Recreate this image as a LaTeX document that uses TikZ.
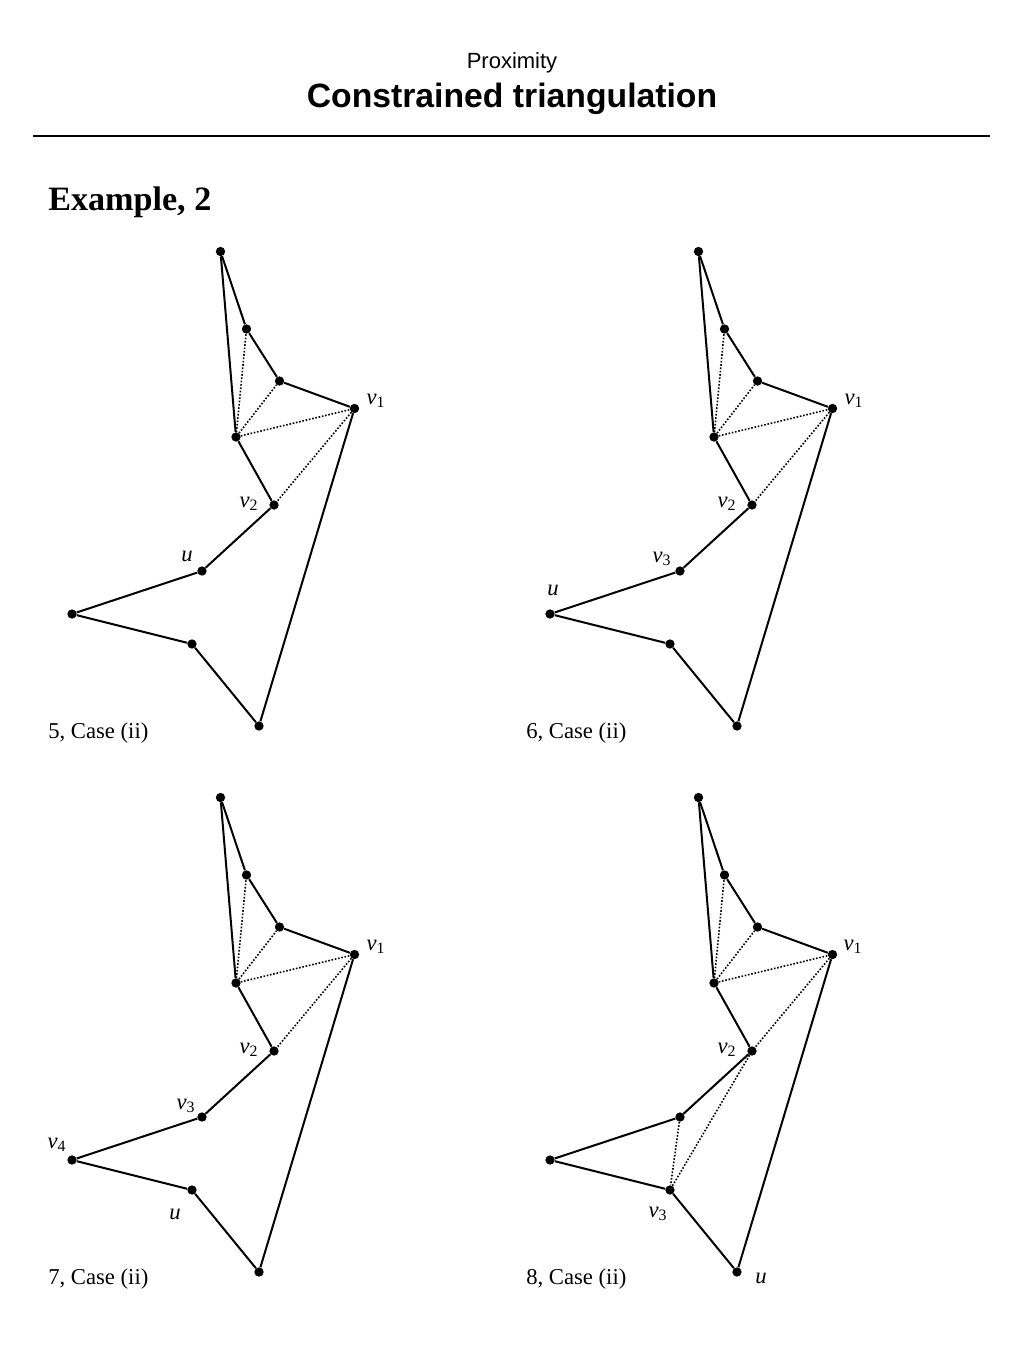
\documentclass[tikz,border=0pt]{standalone}
\usepackage{fontspec}
\setmainfont{Liberation Serif}
\newfontfamily\headfont{Liberation Sans}
\usepackage{xcolor}

\begin{document}
\begin{tikzpicture}[x=0.75pt, y=-0.75pt,
    dot/.style={circle, fill=black, inner sep=0pt, minimum size=7pt},
    edge/.style={line width=1.5pt},
    diag/.style={line width=1.2pt, dash pattern=on 1.2pt off 1.3pt},
    lab/.style={inner sep=0pt, font=\fontsize{17}{20}\selectfont},
    captext/.style={inner sep=0pt, anchor=base west, font=\fontsize{17}{20}\selectfont}]
    \useasboundingbox (0,0) rectangle (1024,1365);

    % header
    \node[inner sep=0pt, anchor=base, font=\headfont\fontsize{16.5}{20}\selectfont] (sec) at (512,68) {Proximity};
    \node[inner sep=0pt, anchor=base, font=\headfont\bfseries\fontsize{25.3}{30}\selectfont] (title) at (512,107) {Constrained triangulation};
    \coordinate (rulel) at (33,136);
    \coordinate (ruler) at (990,136);
      \draw[line width=1.5pt] (rulel) -- (ruler);
    \node[inner sep=0pt, anchor=base west, font=\bfseries\fontsize{25.6}{30}\selectfont] (ex) at (48,210) {Example, 2};

    % the same polygon in all four panels
    \foreach \p/\dx/\dy in {1/0/0, 2/478/0, 3/0/546, 4/478/546} {
    \begin{scope}[shift={(\dx,\dy)}]
      \node[dot] (a\p) at (220.5,251.5) {};
      \node[dot] (b\p) at (246.5,329) {};
        \draw[edge] (a\p) -- (b\p);
      \node[dot] (c\p) at (279.5,381) {};
        \draw[edge] (b\p) -- (c\p);
      \node[dot] (d\p) at (354.5,408.5) {};
        \draw[edge] (c\p) -- (d\p);
      \node[dot] (e\p) at (236,437) {};
        \draw[edge] (e\p) -- (a\p);
        \draw[diag] (e\p) -- (b\p);
        \draw[diag] (e\p) -- (c\p);
        \draw[diag] (e\p) -- (d\p);
      \node[dot] (f\p) at (274,505) {};
        \draw[edge] (f\p) -- (e\p);
        \draw[diag] (d\p) -- (f\p);
      \node[dot] (g\p) at (202,571) {};
        \draw[edge] (g\p) -- (f\p);
      \node[dot] (h\p) at (72,614) {};
        \draw[edge] (h\p) -- (g\p);
      \node[dot] (i\p) at (192,644) {};
        \draw[edge] (i\p) -- (h\p);
      \node[dot] (j\p) at (259,726) {};
        \draw[edge] (j\p) -- (i\p);
        \draw[edge] (d\p) -- (j\p);
    \end{scope}
    }

    % panel 5
    \node[lab] (v1a) at (376,401) {\textit{v}\textsubscript{1}};
    \node[lab] (v2a) at (249,504) {\textit{v}\textsubscript{2}};
    \node[lab] (ua) at (187,556) {\textit{u}};
    \node[captext] (capa) at (48,738) {5, Case (ii)};

    % panel 6
    \node[lab] (v1b) at (854,401) {\textit{v}\textsubscript{1}};
    \node[lab] (v2b) at (727,504) {\textit{v}\textsubscript{2}};
    \node[lab] (v3b) at (662,559) {\textit{v}\textsubscript{3}};
    \node[lab] (ub) at (553,590) {\textit{u}};
    \node[captext] (capb) at (526,738) {6, Case (ii)};

    % panel 7
    \node[lab] (v1c) at (376,947) {\textit{v}\textsubscript{1}};
    \node[lab] (v2c) at (249,1050) {\textit{v}\textsubscript{2}};
    \node[lab] (v3c) at (186,1106) {\textit{v}\textsubscript{3}};
    \node[lab] (v4c) at (57,1145) {\textit{v}\textsubscript{4}};
    \node[lab] (uc) at (175,1214) {\textit{u}};
    \node[captext] (capc) at (48,1284) {7, Case (ii)};

    % panel 8
      \draw[diag] (f4) -- (i4);
      \draw[diag] (g4) -- (i4);
    \node[lab] (v1d) at (853,947) {\textit{v}\textsubscript{1}};
    \node[lab] (v2d) at (727,1050) {\textit{v}\textsubscript{2}};
    \node[lab] (v3d) at (658,1214) {\textit{v}\textsubscript{3}};
    \node[lab] (ud) at (761,1278) {\textit{u}};
    \node[captext] (capd) at (526,1284) {8, Case (ii)};
\end{tikzpicture}
\end{document}
